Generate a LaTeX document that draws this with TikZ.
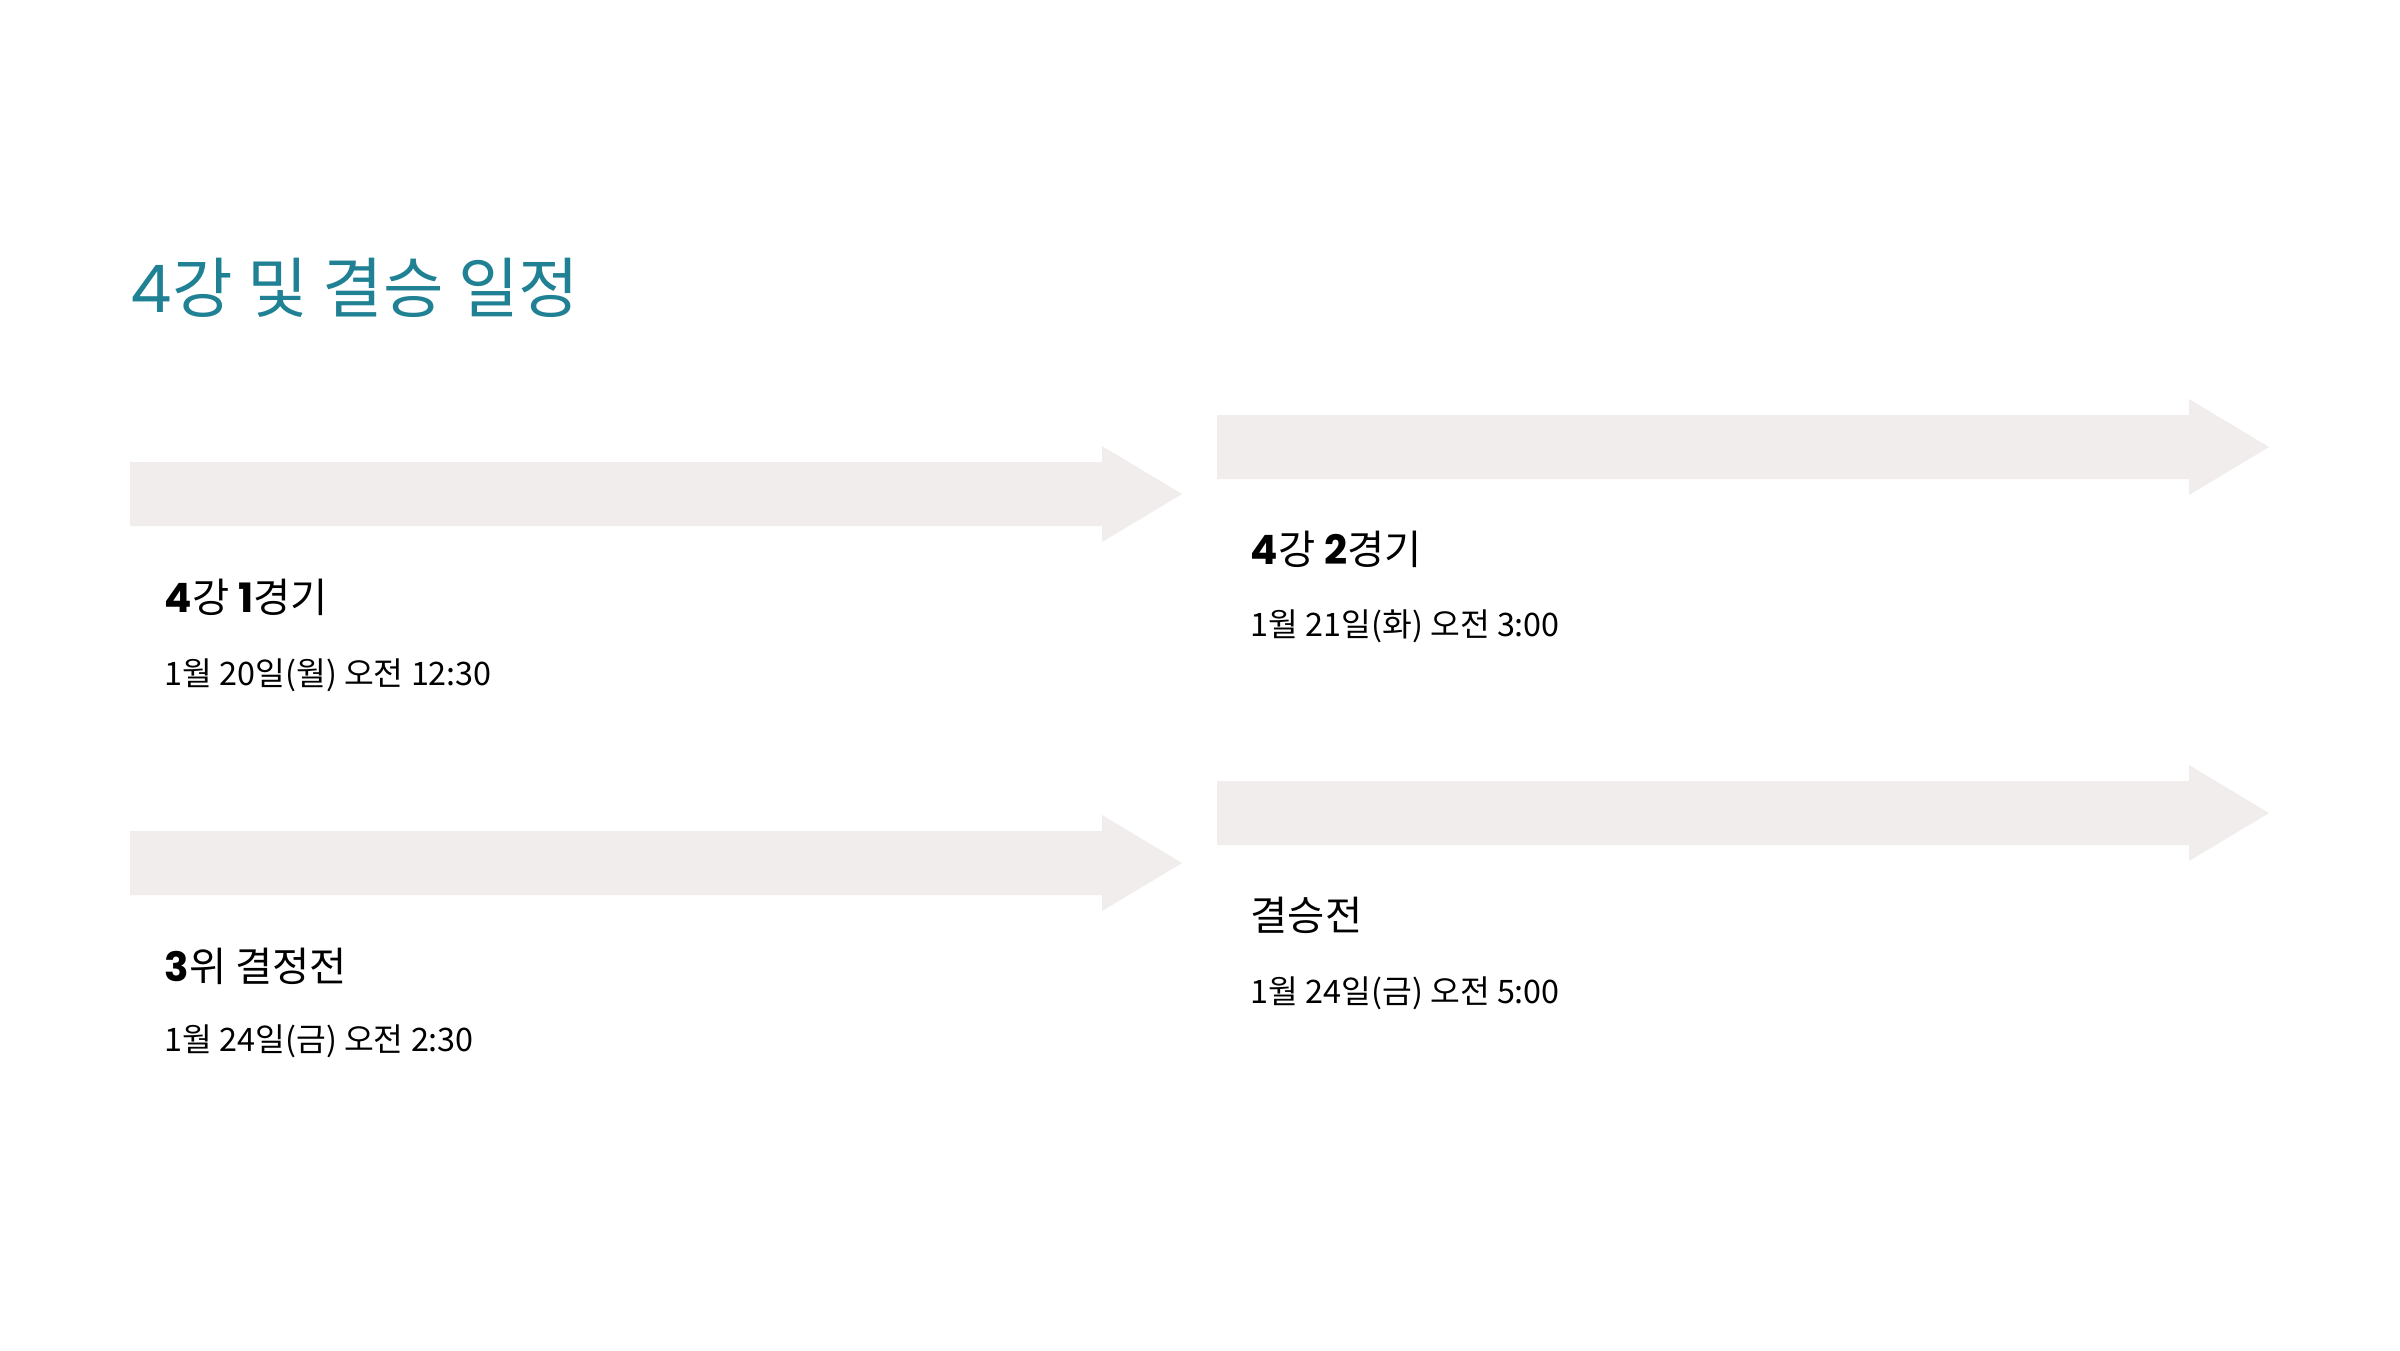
\documentclass[tikz,border=0pt]{standalone}
\usepackage{fontspec}
\setmainfont{Noto Sans CJK KR}
\newfontfamily\digitfont{Poppins}
\newcommand{\dg}[1]{{\digitfont\bfseries #1}}
\definecolor{titleteal}{HTML}{1F8193}
\definecolor{arrowgray}{HTML}{F0EDEC}
\tikzset{
  heading/.style={anchor=west, inner sep=0pt, font=\fontsize{11.5}{11.5}\selectfont},
  datetext/.style={anchor=west, inner sep=0pt, font=\fontsize{9.2}{9.2}\selectfont},
}
\begin{document}
\begin{tikzpicture}[x=0.01cm, y=-0.01cm]
\useasboundingbox[fill=white] (0,0) rectangle (2400,1350);

\node[anchor=west, inner sep=0pt, text=titleteal, font=\fontsize{18.7}{18.7}\selectfont] (title) at (130,288) {{\digitfont 4}강 및 결승 일정};

\foreach \x/\y in {130/494, 1217/447, 130/863, 1217/813} {
	\fill[arrowgray] (\x,\y-32) -- (\x+972,\y-32) -- (\x+972,\y-48) -- (\x+1052,\y) -- (\x+972,\y+48) -- (\x+972,\y+32) -- (\x,\y+32) -- cycle;
}

\node[heading] (semi1) at (164,597) {\dg{4}강 \dg{1}경기};
\node[datetext] (date1) at (164,675) {1월 20일(월) 오전 12:30};

\node[heading] (semi2) at (1250,549) {\dg{4}강 \dg{2}경기};
\node[datetext] (date2) at (1250,626) {1월 21일(화) 오전 3:00};

\node[heading] (third) at (164,966) {\dg{3}위 결정전};
\node[datetext] (date3) at (164,1041) {1월 24일(금) 오전 2:30};

\node[heading] (final) at (1250,915) {결승전};
\node[datetext] (date4) at (1250,993) {1월 24일(금) 오전 5:00};
\end{tikzpicture}
\end{document}
